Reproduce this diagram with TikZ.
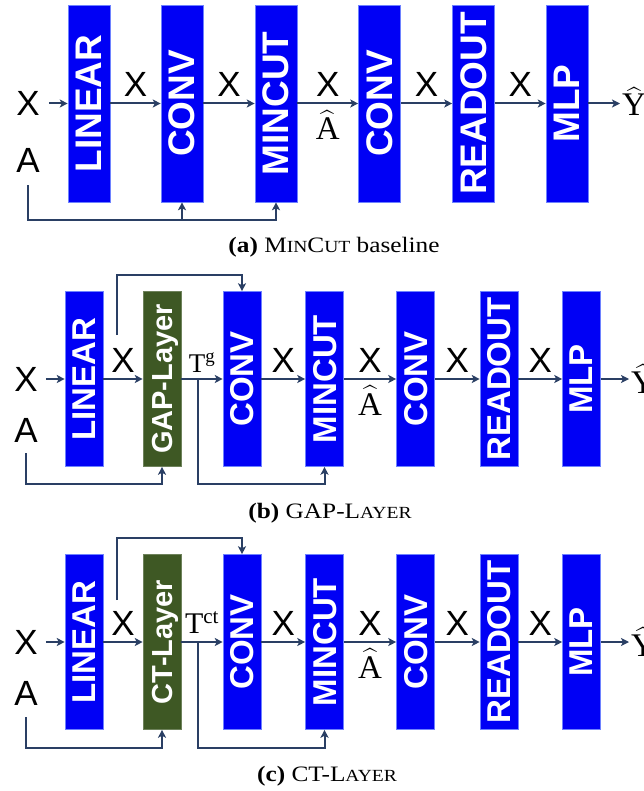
\documentclass[tikz,border=0pt]{standalone}
\usepackage{fontspec}
\usepackage{amsmath}
\usepackage{graphicx}
\setmainfont{Liberation Serif}
\newfontfamily\labelsans{Liberation Sans}
\usetikzlibrary{arrows.meta,calc}
\definecolor{boxblue}{RGB}{0,0,245}
\definecolor{boxedge}{RGB}{110,130,255}
\definecolor{layergreen}{RGB}{62,88,36}
\definecolor{wirecol}{RGB}{42,63,100}
\newcommand\scsz{\fontsize{17}{17}\selectfont}
\newcommand\vtext[1]{\rotatebox{90}{\smash[b]{#1}}}
\newcommand\hatsym[1]{$\widehat{\hbox{#1}}$}
\newcommand\captionline[1]{\scalebox{1.15}[1]{#1}}
\tikzset{
  blk/.style={draw=boxedge, line width=0.6pt, inner sep=0pt, text=white},
  blkA/.style={blk, fill=boxblue, minimum width=42pt, minimum height=197pt,
    font=\labelsans\bfseries\fontsize{37}{37}\selectfont},
  blkB/.style={blk, fill=boxblue, minimum width=38pt, minimum height=175pt,
    font=\labelsans\bfseries\fontsize{33}{33}\selectfont},
  gblk/.style={blk, fill=layergreen, draw=layergreen!75!white, minimum width=38pt,
    minimum height=175pt, font=\labelsans\bfseries\fontsize{29}{29}\selectfont},
  arr/.style={draw=wirecol, line width=2pt, -{Stealth[length=8pt,width=8pt,inset=2pt]}},
  sym/.style={inner sep=0pt, font=\labelsans\fontsize{35}{35}\selectfont},
  ser/.style={inner sep=0pt, font=\fontsize{33}{33}\selectfont},
  tsym/.style={inner sep=0pt, font=\fontsize{27}{27}\selectfont},
  captext/.style={inner sep=0pt, font=\fontsize{22}{22}\selectfont},
}
\begin{document}
\begin{tikzpicture}[x=1pt,y=-1pt]
\useasboundingbox (0,0) rectangle (644,791);

% ---------------- (a) MinCut baseline ----------------
\node[blkA] (linA) at (89,103.5)    {\vtext{LINEAR}};
\node[blkA] (cv1A) at (182,103.5)   {\vtext{CONV}};
\node[blkA] (mcA)  at (276,103.5)   {\vtext{MINCUT}};
\node[blkA] (cv2A) at (379.5,103.5) {\vtext{CONV}};
\node[blkA] (roA)  at (473.5,103.5) {\vtext{READOUT}};
\node[blkA] (mlpA) at (567,103.5)   {\vtext{MLP}};
\node[sym] (xA) at (28,103.5) {X};
\node[sym, anchor=base] (aA) at (28,173) {A};
\node[ser, anchor=base west] (yA) at (622,116) {\hatsym{Y}};

\draw[arr, shorten <=9pt] (xA) -- (linA);
\draw[arr] (linA) -- node[sym, above=6pt] {X} (cv1A);
\draw[arr] (cv1A) -- node[sym, above=6pt] {X} (mcA);
\draw[arr] (mcA) -- node[sym, above=6pt] {X} node[ser, below=6pt] {\hatsym{A}} (cv2A);
\draw[arr] (cv2A) -- node[sym, above=6pt] {X} (roA);
\draw[arr] (roA) -- node[sym, above=6pt] {X} (mlpA);
\draw[arr, shorten >=2pt] (mlpA) -- (mlpA -| yA.west);
\draw[arr] ([yshift=-12pt]aA.south) |- ([yshift=-18pt]mcA.south) -- (mcA.south);
\draw[arr] ([yshift=-18pt]cv1A.south) -- (cv1A.south);

\node[captext] (capA) at (334,247) {\captionline{\textbf{(a)} M{\scsz IN}C{\scsz UT} baseline}};

% ---------------- (b) GAP-Layer ----------------
\node[blkB] (linB) at (84,379)    {\vtext{LINEAR}};
\node[gblk] (gapB) at (162,379)   {\vtext{GAP-Layer}};
\node[blkB] (cv1B) at (242,379)   {\vtext{CONV}};
\node[blkB] (mcB)  at (324.5,379) {\vtext{MINCUT}};
\node[blkB] (cv2B) at (415.5,379) {\vtext{CONV}};
\node[blkB] (roB)  at (499,379)   {\vtext{READOUT}};
\node[blkB] (mlpB) at (581.5,379) {\vtext{MLP}};
\node[sym] (xB) at (26,379) {X};
\node[sym, anchor=base] (aB) at (26,442) {A};
\node[ser, anchor=base west] (yB) at (631,393) {\hatsym{Y}};
\coordinate (sB) at (117,335);

\draw[arr, shorten <=8pt] (xB) -- (linB);
\draw[arr] (linB) -- node[sym, above=6pt] {X} (gapB);
\draw[arr] (gapB) -- node[tsym, above=6pt] {T\textsuperscript{g}} coordinate[pos=0.4] (tB) (cv1B);
\draw[arr] (cv1B) -- node[sym, above=6pt] {X} (mcB);
\draw[arr] (mcB) -- node[sym, above=6pt] {X} node[ser, below=6pt] {\hatsym{A}} (cv2B);
\draw[arr] (cv2B) -- node[sym, above=6pt] {X} (roB);
\draw[arr] (roB) -- node[sym, above=6pt] {X} (mlpB);
\draw[arr, shorten >=2pt] (mlpB) -- (mlpB -| yB.west);
\draw[arr] (sB) |- ([yshift=16pt]cv1B.north) -- (cv1B.north);
\draw[arr] ([yshift=-11pt]aB.south) |- ([yshift=-17pt]gapB.south) -- (gapB.south);
\draw[arr] (tB) |- ([yshift=-17pt]mcB.south) -- (mcB.south);

\node[captext] (capB) at (330,513) {\captionline{\textbf{(b)} GAP-L{\scsz AYER}}};

% ---------------- (c) CT-Layer ----------------
\node[blkB] (linC) at (84,642)    {\vtext{LINEAR}};
\node[gblk] (ctC)  at (162,642)   {\vtext{CT-Layer}};
\node[blkB] (cv1C) at (242,642)   {\vtext{CONV}};
\node[blkB] (mcC)  at (324.5,642) {\vtext{MINCUT}};
\node[blkB] (cv2C) at (415.5,642) {\vtext{CONV}};
\node[blkB] (roC)  at (499,642)   {\vtext{READOUT}};
\node[blkB] (mlpC) at (581.5,642) {\vtext{MLP}};
\node[sym] (xC) at (26,642) {X};
\node[sym, anchor=base] (aC) at (26,705) {A};
\node[ser, anchor=base west] (yC) at (631,656) {\hatsym{Y}};
\coordinate (sC) at (117,600);

\draw[arr, shorten <=8pt] (xC) -- (linC);
\draw[arr] (linC) -- node[sym, above=6pt] {X} (ctC);
\draw[arr] (ctC) -- node[tsym, above=8pt, font=\fontsize{30}{30}\selectfont] {T\textsuperscript{ct}} coordinate[pos=0.4] (tC) (cv1C);
\draw[arr] (cv1C) -- node[sym, above=6pt] {X} (mcC);
\draw[arr] (mcC) -- node[sym, above=6pt] {X} node[ser, below=6pt] {\hatsym{A}} (cv2C);
\draw[arr] (cv2C) -- node[sym, above=6pt] {X} (roC);
\draw[arr] (roC) -- node[sym, above=6pt] {X} (mlpC);
\draw[arr, shorten >=2pt] (mlpC) -- (mlpC -| yC.west);
\draw[arr] (sC) |- ([yshift=16pt]cv1C.north) -- (cv1C.north);
\draw[arr] ([yshift=-12pt]aC.south) |- ([yshift=-18pt]ctC.south) -- (ctC.south);
\draw[arr] (tC) |- ([yshift=-18pt]mcC.south) -- (mcC.south);

\node[captext] (capC) at (327,776) {\captionline{\textbf{(c)} CT-L{\scsz AYER}}};
\end{tikzpicture}
\end{document}
